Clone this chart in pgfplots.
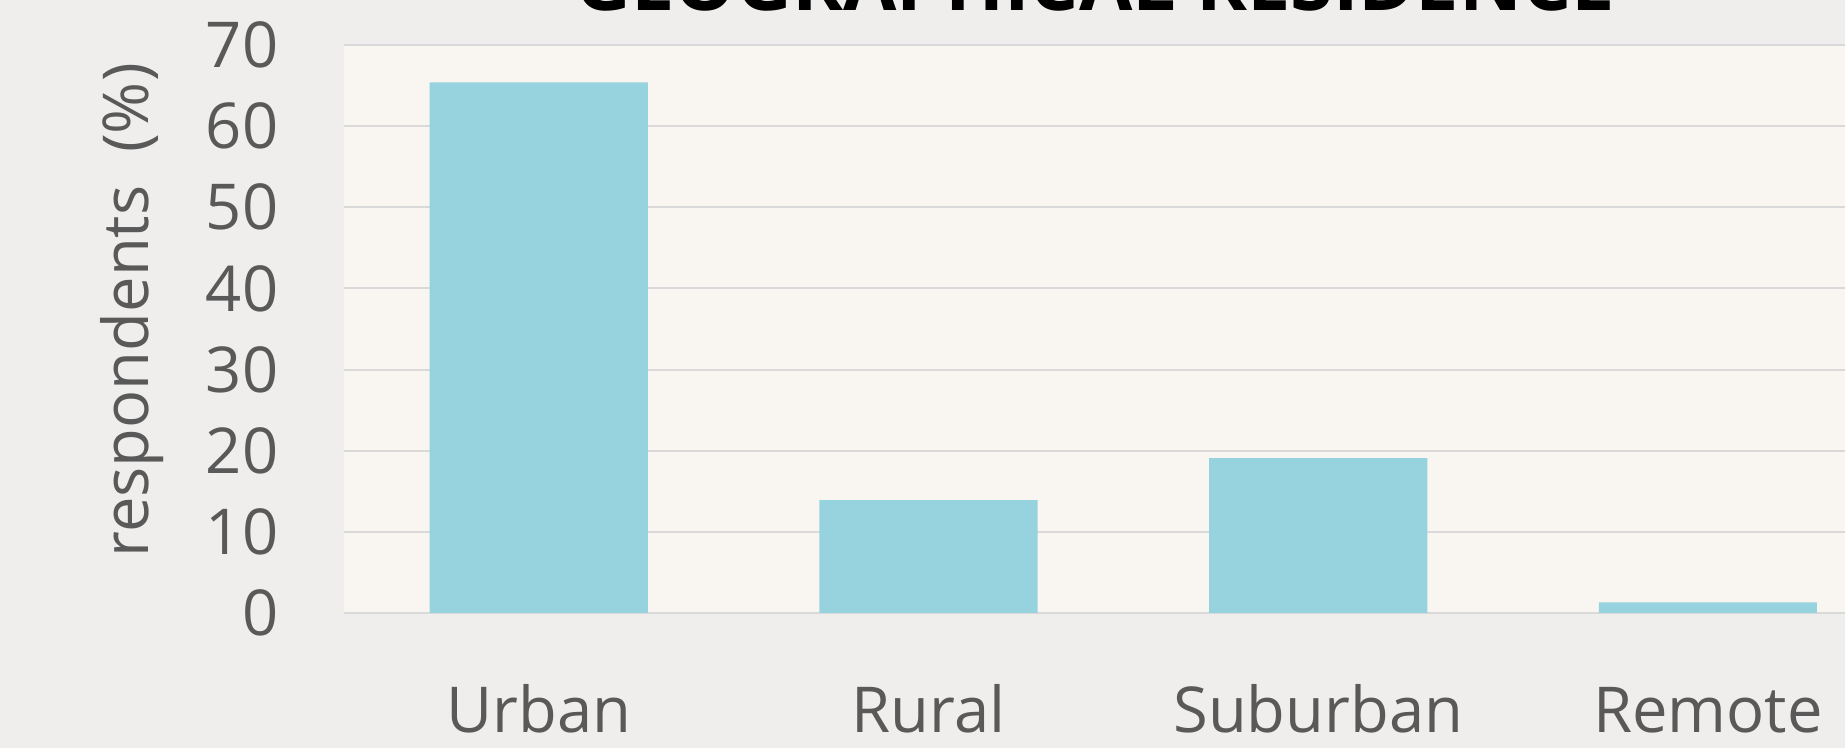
\documentclass[border=0pt]{standalone}
\usepackage{pgfplots}
\pgfplotsset{compat=1.18}
\usepackage{fontspec}
\setmainfont{Open Sans}
\definecolor{outerbg}{HTML}{EFEEEC}
\definecolor{plotbg}{HTML}{F9F5F1}
\definecolor{barc}{HTML}{97D3DE}
\definecolor{gridc}{HTML}{D9D9D9}
\definecolor{txt}{HTML}{595959}
\begin{document}
\begin{tikzpicture}[x=1mm,y=1mm]
\useasboundingbox (0,0) rectangle (184.5,74.8);
\fill[outerbg] (0,0) rectangle (184.5,74.8);
\begin{axis}[
  at={(34.4mm,13.5mm)}, anchor=south west,
  scale only axis, width=150.1mm, height=56.8mm,
  xmin=-0.5, xmax=3.352, ymin=0, ymax=70,
  ytick={0,10,...,70}, xtick={0,1,2,3},
  xticklabels={Urban,Rural,Suburban,Remote},
  major tick length=0pt,
  axis line style={draw=none},
  ymajorgrids, grid style={gridc, line width=0.57pt},
  axis background/.style={fill=plotbg},
  ybar, bar width=0.56,
  /pgf/number format/assume math mode=true,
  tick label style={font=\fontsize{18}{22}\selectfont, text=txt},
  yticklabel style={anchor=east, inner sep=0pt, xshift=-6.5mm},
  xticklabel style={anchor=base, inner sep=0pt, yshift=-11.9mm},
  ylabel={respondents\ \ (\%)},
  ylabel style={at={(axis description cs:-0.1412,0.533)}, anchor=center, rotate=0, font=\fontsize{18}{22}\selectfont, text=txt, inner sep=0pt},
  clip=true,
]
\addplot[fill=barc, draw=none] coordinates {(0,65.4) (1,13.9) (2,19.1) (3,1.3)};
\end{axis}
\node[anchor=base, font=\bfseries\fontsize{22}{26}\selectfont, text=black, inner sep=0pt] at (109.5,73.7) {GEOGRAPHICAL RESIDENCE};
\end{tikzpicture}
\end{document}
